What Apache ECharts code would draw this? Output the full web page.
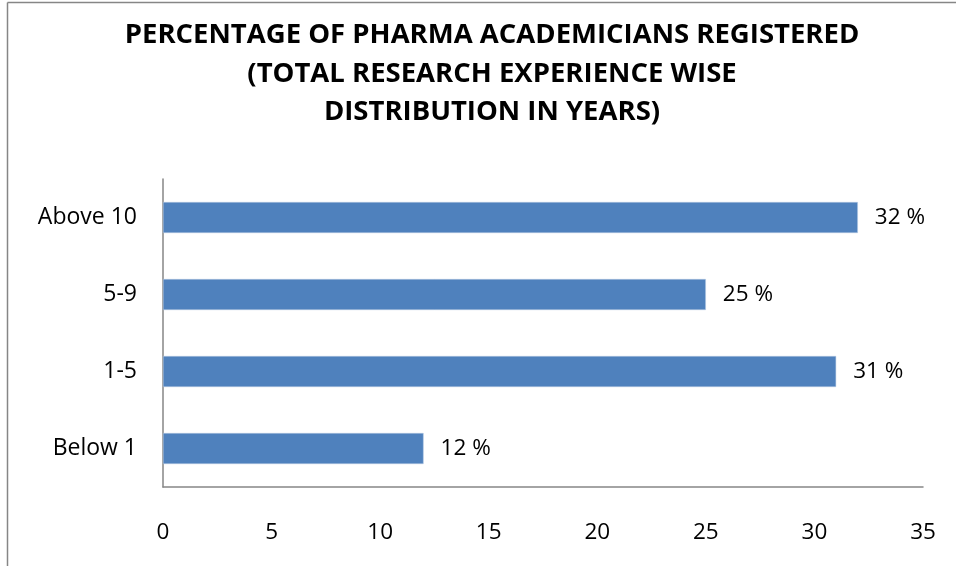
<!DOCTYPE html>
<html>
<head>
<meta charset="utf-8">
<script src="https://cdn.jsdelivr.net/npm/echarts@6/dist/echarts.min.js"></script>
<style>
html,body{margin:0;padding:0;background:#fff;}
#c{width:956px;height:566px;}
</style>
</head>
<body>
<div id="c"></div>
<script>
const categories = ["Below 1", "1-5", "5-9", "Above 10"];
const values = [12, 31, 25, 32];
const xTicks = [0, 5, 10, 15, 20, 25, 30, 35];
const titleLines = ["PERCENTAGE OF PHARMA ACADEMICIANS REGISTERED", "(TOTAL RESEARCH EXPERIENCE WISE", "DISTRIBUTION IN YEARS)"];

const chart = echarts.init(document.getElementById('c'));
const font = "'Open Sans', sans-serif";
chart.setOption({
  animation: false,
  title: {
    text: titleLines.join('\n'),
    left: 487, top: 11, textAlign: 'center',
    textStyle: { fontFamily: font, fontWeight: 'bold', fontSize: 27.5, lineHeight: 38.5, color: '#000' }
  },
  graphic: [
    { type: 'line', shape: { x1: 7.5, y1: 2.5, x2: 956, y2: 2.5 }, style: { stroke: '#868686', lineWidth: 1.5 } },
    { type: 'line', shape: { x1: 7.5, y1: 2.5, x2: 7.5, y2: 566 }, style: { stroke: '#868686', lineWidth: 1.5 } }
  ],
  grid: { left: 163, right: 33, top: 179, bottom: 79, containLabel: false },
  xAxis: {
    type: 'value', min: 0, max: 35, interval: 5,
    axisLine: { show: true, lineStyle: { color: '#868686', width: 1.5 } },
    axisTick: { show: false },
    splitLine: { show: false },
    axisLabel: { margin: 34, color: '#000', fontFamily: font, fontSize: 22.5,
      formatter: v => xTicks.includes(v) ? String(v) : '' }
  },
  yAxis: {
    type: 'category', data: categories,
    axisLine: { show: true, lineStyle: { color: '#868686', width: 1.5 } },
    axisTick: { show: false },
    axisLabel: { margin: 26, color: '#000', fontFamily: font, fontSize: 23 }
  },
  series: [{
    type: 'bar', data: values, barWidth: 31,
    itemStyle: { color: '#4f81bd', borderColor: '#b9cde5', borderWidth: 0.5 },
    label: { show: true, position: 'right', distance: 17, formatter: p => p.value + ' %',
      color: '#000', fontFamily: font, fontSize: 22.5 }
  }]
});
</script>
</body>
</html>
